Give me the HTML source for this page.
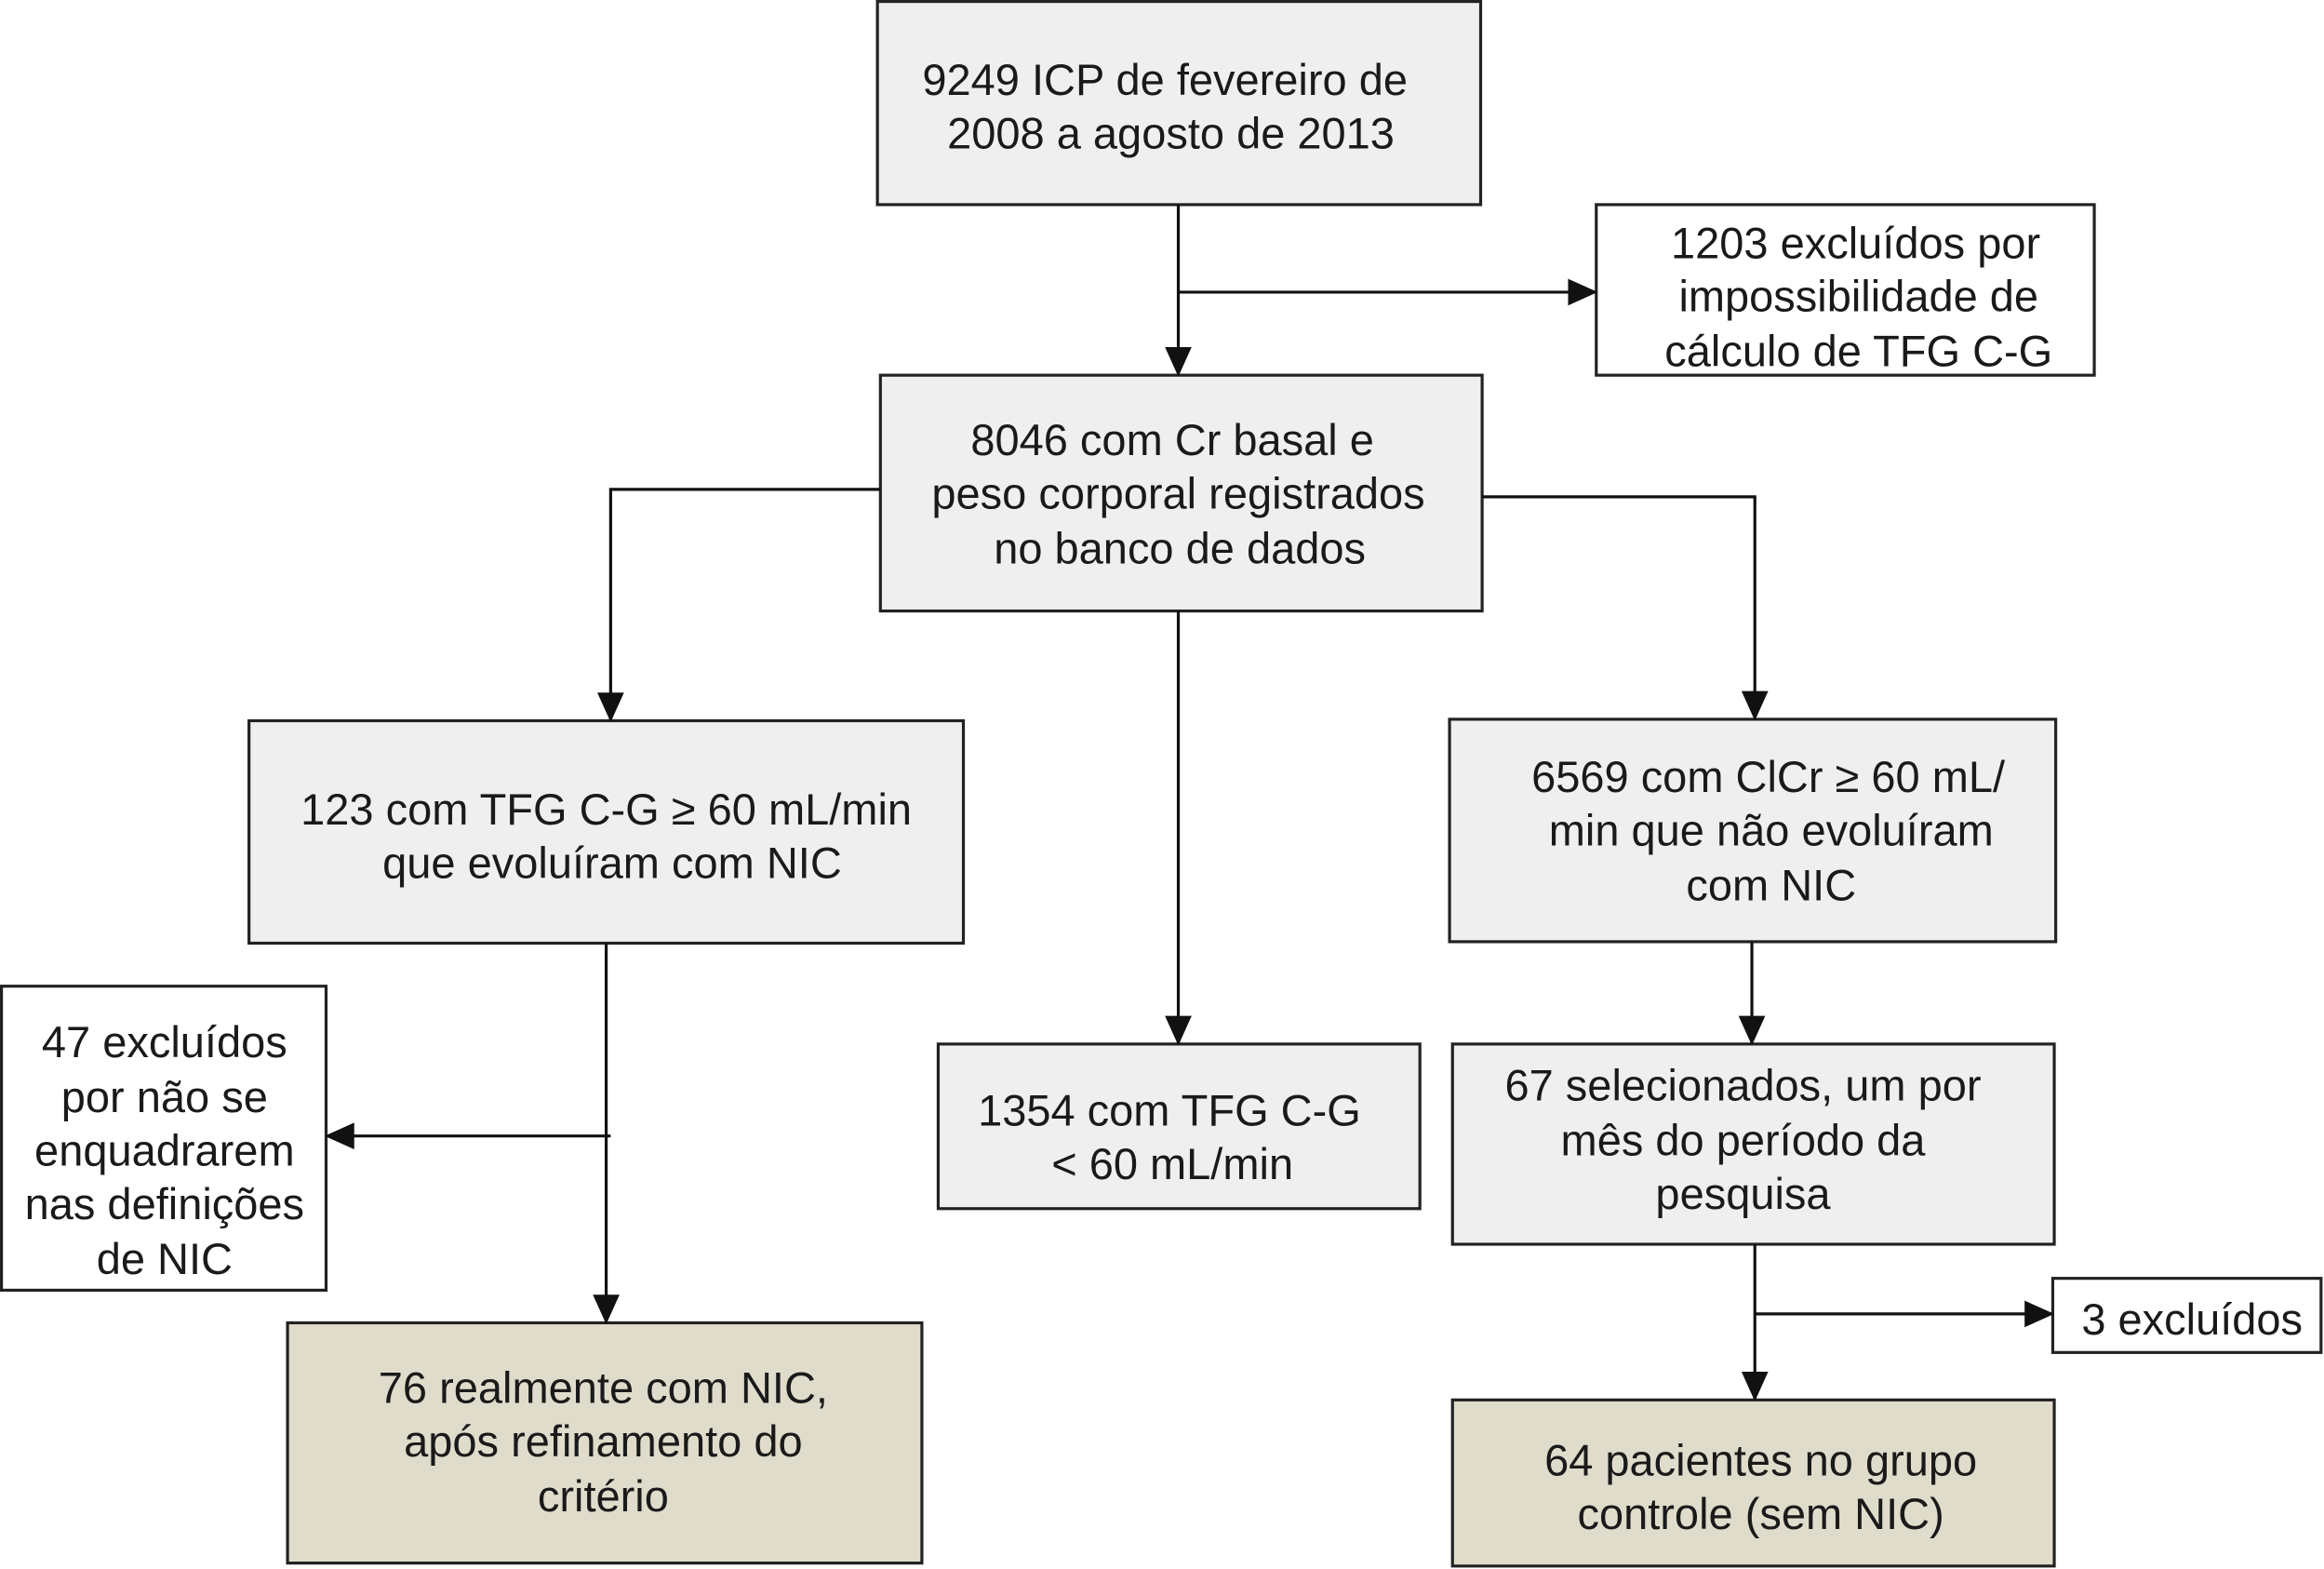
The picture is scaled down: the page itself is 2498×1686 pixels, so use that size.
<!DOCTYPE html>
<html><head><meta charset="utf-8"><style>
html,body{margin:0;padding:0;background:#fff;}
svg{display:block;}
text{font-family:"Liberation Sans",Arial,sans-serif;font-size:29.5px;fill:#1a1a1a;text-anchor:middle;}
</style></head><body>
<svg width="2498" height="1686" viewBox="0 0 1568 1058" preserveAspectRatio="none" xmlns="http://www.w3.org/2000/svg">
<defs>
<marker id="b" viewBox="0 0 20 20" markerWidth="20" markerHeight="20" refX="19" refY="10" orient="auto" markerUnits="userSpaceOnUse"><path d="M0,1 L20,10 L0,19 z" fill="#111"/></marker></defs>
<g stroke="#222" stroke-width="2">
<rect x="592" y="1" width="407" height="137" fill="#efefef"/>
<rect x="1077" y="138" width="336" height="115" fill="#fff"/>
<rect x="594" y="253" width="406" height="159" fill="#efefef"/>
<rect x="168" y="486" width="482" height="150" fill="#efefef"/>
<rect x="978" y="485" width="409" height="150" fill="#efefef"/>
<rect x="1" y="665" width="219" height="205" fill="#fff"/>
<rect x="633" y="704" width="325" height="111" fill="#efefef"/>
<rect x="980" y="704" width="406" height="135" fill="#efefef"/>
<rect x="194" y="892" width="428" height="162" fill="#e0dccb"/>
<rect x="1385" y="862" width="181" height="50" fill="#fff"/>
<rect x="980" y="944" width="406" height="112" fill="#e0dccb"/>
</g>
<g stroke="#111" stroke-width="2" fill="none" marker-end="url(#b)">
<path d="M795,138 V253"/>
<path d="M795,197 H1077"/>
<path d="M594,330 H412 V486"/>
<path d="M1000,335 H1184 V485"/>
<path d="M795,412 V704"/>
<path d="M409,636 V892"/>
<path d="M412,766 H220"/>
<path d="M1182,635 V704"/>
<path d="M1184,839 V944"/>
<path d="M1184,886 H1385"/>
</g>
<text x="786" y="64">9249 ICP de fevereiro de</text>
<text x="790" y="100">2008 a agosto de 2013</text>
<text x="1252" y="174">1203 excluídos por</text>
<text x="1254" y="210">impossibilidade de</text>
<text x="1254" y="247">cálculo de TFG C-G</text>
<text x="791" y="307">8046 com Cr basal e</text>
<text x="795" y="343">peso corporal registrados</text>
<text x="796" y="380">no banco de dados</text>
<text x="409" y="556">123 com TFG C-G ≥ 60 mL/min</text>
<text x="413" y="592">que evoluíram com NIC</text>
<text x="1193" y="534">6569 com ClCr  ≥ 60  mL/</text>
<text x="1195" y="570">min que não evoluíram</text>
<text x="1195" y="607">com NIC</text>
<text x="111" y="713">47 excluídos</text>
<text x="111" y="750">por não se</text>
<text x="111" y="786">enquadrarem</text>
<text x="111" y="822">nas definições</text>
<text x="111" y="859">de NIC</text>
<text x="789" y="759">1354 com TFG C-G</text>
<text x="791" y="795">&lt; 60 mL/min</text>
<text x="1176" y="742">67 selecionados, um por</text>
<text x="1176" y="779">mês do período da</text>
<text x="1176" y="815">pesquisa</text>
<text x="407" y="946">76 realmente com NIC,</text>
<text x="407" y="982">após refinamento do</text>
<text x="407" y="1019">critério</text>
<text x="1479" y="900">3 excluídos</text>
<text x="1188" y="995">64 pacientes no grupo</text>
<text x="1188" y="1031">controle (sem NIC)</text>
</svg>
</body></html>
